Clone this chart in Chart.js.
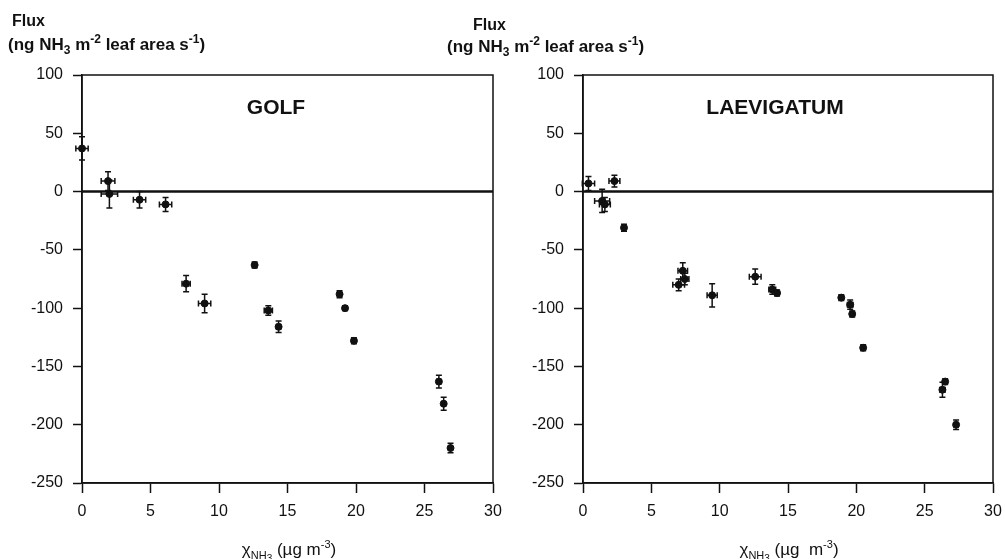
<!DOCTYPE html>
<html lang="en">
<head>
  <meta charset="UTF-8" />
  <title>NH3 flux vs concentration</title>
  <script src="https://cdn.jsdelivr.net/npm/chart.js"></script>
  <style>
    body { margin: 0; background: #fff; font-family: "Liberation Sans", Arial, sans-serif; color: #111; }
    .page { position: relative; width: 1005px; height: 559px; overflow: hidden; }
    .panel { position: absolute; top: 0; width: 505px; height: 559px; }
    .lbl { position: absolute; white-space: nowrap; line-height: 1; }
    .ytitle { font-weight: bold; font-size: 16px; }
    .ytitle.unit { font-size: 17px; }
    .ytitle sub, .ytitle sup { font-size: 12px; }
    .ptitle { font-weight: bold; font-size: 21px; transform: translate(-50%, -50%); }
    .xtitle { font-size: 17px; transform: translate(-50%, -50%); }
    sub, sup { font-size: 11px; line-height: 0; }
    sub sub { font-size: 10px; }
  </style>
</head>
<body>
  <div class="page">
    <div class="panel" style="left:0"><canvas id="golfChart" width="505" height="559"></canvas></div>
    <div class="panel" style="left:500px"><canvas id="laevChart" width="505" height="559"></canvas></div>

    <!-- Axis titles and panel names -->
    <div class="lbl ytitle" style="left:12px; top:13px;">Flux</div>
    <div class="lbl ytitle unit" style="left:8px; top:36px;">(ng NH<sub>3</sub> m<sup>-2</sup> leaf area s<sup>-1</sup>)</div>
    <div class="lbl ytitle" style="left:473px; top:17px;">Flux</div>
    <div class="lbl ytitle unit" style="left:447px; top:38px;">(ng NH<sub>3</sub> m<sup>-2</sup> leaf area s<sup>-1</sup>)</div>

    <div class="lbl ptitle" style="left:276px; top:106px;">GOLF</div>
    <div class="lbl ptitle" style="left:775px; top:106px;">LAEVIGATUM</div>

    <div class="lbl xtitle" style="left:289px; top:550px;">&chi;<sub>NH<sub>3</sub></sub> (&micro;g m<sup>-3</sup>)</div>
    <div class="lbl xtitle" style="left:789px; top:550px;">&chi;<sub>NH<sub>3</sub></sub> (&micro;g&nbsp; m<sup>-3</sup>)</div>
  </div>

  <script>
    // Axis ticks
    const xTicks = [0, 5, 10, 15, 20, 25, 30];
    const yTicks = [-250, -200, -150, -100, -50, 0, 50, 100];

    // GOLF: concentration (ug m-3), flux, and error half-widths
    const golfX    = [0, 1.9, 2.0, 4.2, 6.1, 7.6, 8.95, 12.6, 13.6, 14.35, 18.8, 19.2, 19.85, 26.05, 26.4, 26.9];
    const golfY    = [37, 9, -2, -7, -11, -79, -96, -63, -102, -116, -88, -100, -128, -163, -182, -220];
    const golfXErr = [0.45, 0.5, 0.6, 0.45, 0.45, 0.3, 0.45, 0.1, 0.3, 0.15, 0.1, 0.1, 0.15, 0.15, 0.12, 0.1];
    const golfYErr = [10, 8, 12, 7, 6, 7, 8, 2.5, 4, 5, 3, 2, 2.5, 5.5, 5.5, 4];

    // LAEVIGATUM
    const laevX    = [0.4, 2.3, 1.4, 1.6, 3.0, 7.0, 7.3, 7.45, 9.45, 12.6, 13.85, 14.2, 18.9, 19.55, 19.7, 20.5, 26.5, 26.3, 27.3];
    const laevY    = [7, 9, -8, -11, -31, -80, -68, -75, -89, -73, -84, -87, -91, -97, -105, -134, -163, -170, -200];
    const laevXErr = [0.45, 0.4, 0.55, 0.4, 0.1, 0.43, 0.35, 0.3, 0.37, 0.43, 0.25, 0.15, 0.1, 0.2, 0.1, 0.1, 0.1, 0.2, 0.15];
    const laevYErr = [6, 5, 10, 6, 3, 5, 7, 5, 10, 6.5, 4, 2.5, 2.5, 4, 2.5, 2.5, 2.5, 6.5, 4];

    // Draws x/y error bars with small caps, using the chart scales.
    const errorBars = {
      id: "errorBars",
      afterDatasetsDraw(chart) {
        const ctx = chart.ctx;
        const xs = chart.scales.x, ys = chart.scales.y;
        const cap = 3;
        ctx.save();
        ctx.strokeStyle = "#111";
        ctx.lineWidth = 1.5;
        chart.data.datasets.forEach(ds => {
          if (!ds.xErr) return;
          ds.data.forEach((p, i) => {
            const px = xs.getPixelForValue(p.x);
            const py = ys.getPixelForValue(p.y);
            const xl = xs.getPixelForValue(p.x - ds.xErr[i]);
            const xr = xs.getPixelForValue(p.x + ds.xErr[i]);
            const yt = ys.getPixelForValue(p.y + ds.yErr[i]);
            const yb = ys.getPixelForValue(p.y - ds.yErr[i]);
            ctx.beginPath();
            ctx.moveTo(xl, py); ctx.lineTo(xr, py);
            ctx.moveTo(xl, py - cap); ctx.lineTo(xl, py + cap);
            ctx.moveTo(xr, py - cap); ctx.lineTo(xr, py + cap);
            ctx.moveTo(px, yt); ctx.lineTo(px, yb);
            ctx.moveTo(px - cap, yt); ctx.lineTo(px + cap, yt);
            ctx.moveTo(px - cap, yb); ctx.lineTo(px + cap, yb);
            ctx.stroke();
          });
        });
        ctx.restore();
      }
    };

    // Box around the plot area (top and right sides)
    const frame = {
      id: "frame",
      afterDraw(chart) {
        const a = chart.chartArea, ctx = chart.ctx;
        ctx.save();
        ctx.strokeStyle = "#111";
        ctx.lineWidth = 1.5;
        ctx.strokeRect(a.left, a.top, a.right - a.left, a.bottom - a.top);
        ctx.restore();
      }
    };

    function makePanel(id, xs, ys, xErr, yErr, yAxisWidth) {
      const pts = xs.map((x, i) => ({ x: x, y: ys[i] }));
      new Chart(document.getElementById(id), {
        type: "scatter",
        data: {
          datasets: [
            {
              type: "line",
              data: [{ x: xTicks[0], y: 0 }, { x: xTicks[xTicks.length - 1], y: 0 }],
              borderColor: "#111",
              borderWidth: 2.5,
              pointRadius: 0
            },
            {
              data: pts,
              xErr: xErr,
              yErr: yErr,
              backgroundColor: "#111",
              borderColor: "#111",
              pointRadius: 3.5,
              clip: false
            }
          ]
        },
        options: {
          responsive: false,
          animation: false,
          devicePixelRatio: 1,
          layout: { padding: { left: 0, top: 75, right: 12, bottom: 26 } },
          plugins: { legend: { display: false }, tooltip: { enabled: false } },
          scales: {
            x: {
              type: "linear",
              min: xTicks[0],
              max: xTicks[xTicks.length - 1],
              afterBuildTicks: axis => { axis.ticks = xTicks.map(v => ({ value: v })); },
              afterFit: axis => { axis.height = 50; axis.paddingLeft = 0; axis.paddingRight = 0; },
              grid: { drawOnChartArea: false, tickLength: 10, tickColor: "#111", tickWidth: 1.5 },
              border: { color: "#111", width: 1.5 },
              ticks: { color: "#111", padding: 9, font: { family: "Liberation Sans", size: 16 } }
            },
            y: {
              type: "linear",
              min: yTicks[0],
              max: yTicks[yTicks.length - 1],
              afterBuildTicks: axis => { axis.ticks = yTicks.map(v => ({ value: v })); },
              afterFit: axis => { axis.width = yAxisWidth; axis.paddingTop = 0; axis.paddingBottom = 0; },
              grid: { drawOnChartArea: false, tickLength: 9, tickColor: "#111", tickWidth: 1.5 },
              border: { color: "#111", width: 1.5 },
              ticks: { color: "#111", padding: 10, font: { family: "Liberation Sans", size: 16 } }
            }
          }
        },
        plugins: [errorBars, frame]
      });
    }

    makePanel("golfChart", golfX, golfY, golfXErr, golfYErr, 82);
    makePanel("laevChart", laevX, laevY, laevXErr, laevYErr, 83);
  </script>
</body>
</html>
